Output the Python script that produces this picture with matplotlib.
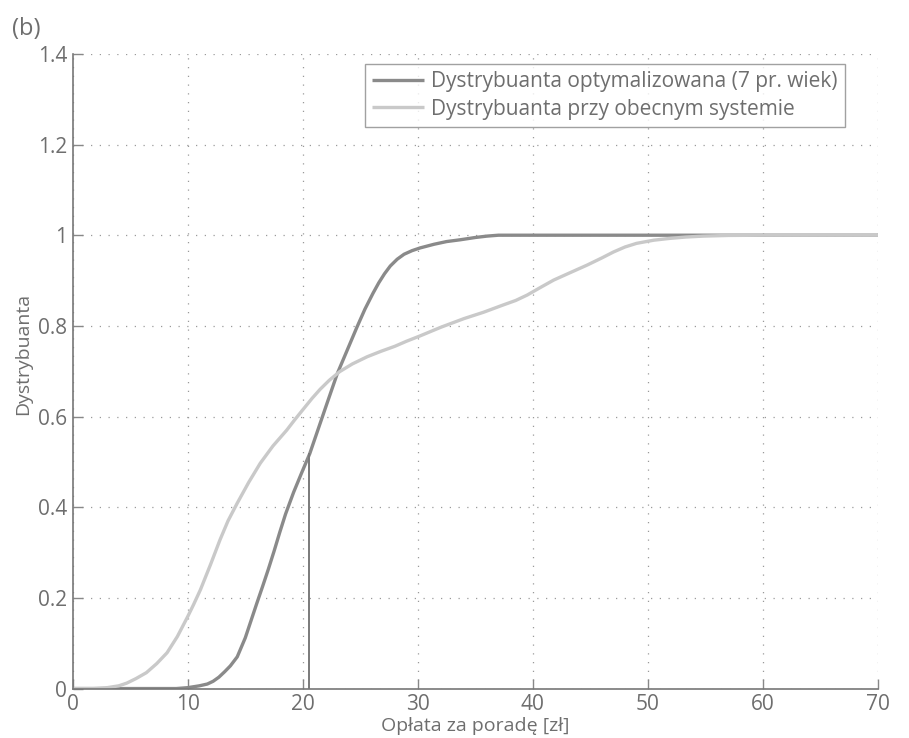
import numpy as np
import matplotlib.pyplot as plt

plt.rcParams['font.family'] = ['Open Sans', 'DejaVu Sans']

# Dystrybuanta optymalizowana (7 pr. wiek)
x_opt = [0, 5, 9, 10, 11, 11.7, 12.2, 12.7, 13.2, 13.7, 14.3, 15, 15.5, 16, 16.5,
         17, 17.5, 18, 18.5, 19.2, 19.9, 20.6, 21.6, 22.1, 23, 24, 24.7, 25.4,
         26.1, 26.6, 27.1, 27.6, 28.2, 28.8, 29.5, 30.2, 31.4, 32.5, 33.7, 35,
         36, 37, 45, 60, 70]
y_opt = [0, 0, 0, 0.002, 0.006, 0.01, 0.016, 0.025, 0.037, 0.05, 0.07, 0.112,
         0.15, 0.188, 0.225, 0.263, 0.303, 0.345, 0.385, 0.433, 0.476, 0.518,
         0.592, 0.629, 0.695, 0.755, 0.797, 0.837, 0.872, 0.895, 0.915, 0.932,
         0.947, 0.958, 0.966, 0.972, 0.98, 0.986, 0.99, 0.995, 0.998, 1.0, 1.0,
         1.0, 1.0]

# Dystrybuanta przy obecnym systemie
x_cur = [0, 1.8, 3, 4, 4.7, 5.5, 6.4, 7.3, 8.2, 9.1, 10, 10.5, 11.1, 12, 12.8,
         13.5, 14.3, 15.3, 16.3, 17.4, 18.6, 19.3, 20, 20.8, 21.5, 22.3, 23.2,
         24.3, 25.6, 26.8, 28, 29, 30.2, 32, 34, 35.7, 37.4, 38.5, 39.5, 40.6,
         41.8, 43.2, 44.7, 46, 47, 48, 49, 50.5, 51.9, 53.3, 54.8, 57, 60, 70]
y_cur = [0, 0, 0.002, 0.006, 0.012, 0.022, 0.035, 0.055, 0.079, 0.115, 0.159,
         0.185, 0.218, 0.275, 0.328, 0.37, 0.409, 0.455, 0.497, 0.535, 0.57,
         0.593, 0.615, 0.64, 0.66, 0.68, 0.699, 0.716, 0.732, 0.744, 0.755,
         0.766, 0.778, 0.797, 0.816, 0.83, 0.846, 0.856, 0.868, 0.884, 0.901,
         0.917, 0.934, 0.95, 0.963, 0.974, 0.982, 0.989, 0.993, 0.996, 0.998,
         0.9995, 1.0, 1.0]

# wybrana oplata
x_mark = 20.55
y_mark = 0.518

x_ticks = [0, 10, 20, 30, 40, 50, 60, 70]
y_ticks = [0, 0.2, 0.4, 0.6, 0.8, 1.0, 1.2, 1.4]
y_tick_labels = ['0', '0.2', '0.4', '0.6', '0.8', '1', '1.2', '1.4']

txt = '#6e6e6e'
fig = plt.figure(figsize=(9.09, 7.38), dpi=100)
ax = fig.add_axes([0.080, 0.067, 0.886, 0.860])

ax.plot(x_opt, y_opt, color='#8a8a8a', lw=2.4, solid_capstyle='butt',
        label='Dystrybuanta optymalizowana (7 pr. wiek)')
ax.plot(x_cur, y_cur, color='#c9c9c9', lw=2.4, solid_capstyle='butt',
        label='Dystrybuanta przy obecnym systemie')
ax.plot([x_mark, x_mark], [0, y_mark], color='#7a7a7a', lw=1.4)

ax.set_xlim(0, 70)
ax.set_ylim(0, 1.4)
ax.set_xticks(x_ticks)
ax.set_yticks(y_ticks)
ax.set_yticklabels(y_tick_labels)
ax.tick_params(direction='in', length=7, width=1, colors='#888888',
               labelcolor=txt, labelsize=15, pad=4)
ax.grid(True, color='#9a9a9a', lw=0.9, linestyle=(0, (1, 6)))
for s in ['top', 'right']:
    ax.spines[s].set_visible(False)
for s in ['left', 'bottom']:
    ax.spines[s].set_color('#777777')
    ax.spines[s].set_linewidth(1.2)

ax.set_xlabel('Opłata za poradę [zł]', color=txt, fontsize=14, va='top')
ax.xaxis.set_label_coords(0.5, -0.045)
ax.set_ylabel('Dystrybuanta', color=txt, fontsize=14, va='center')
ax.yaxis.set_label_coords(-0.061, 0.528)

leg = ax.legend(loc='upper right', bbox_to_anchor=(0.959, 0.984), fontsize=15,
                frameon=True, fancybox=False, handlelength=2.5, handletextpad=0.35,
                borderpad=0.35, labelspacing=0.3, borderaxespad=0)
leg.get_frame().set_edgecolor('#8a8a8a')
leg.get_frame().set_linewidth(1.0)
for t in leg.get_texts():
    t.set_color(txt)

fig.text(0.013, 0.953, '(b)', color=txt, fontsize=17)

fig.savefig('out.png', dpi=100)
